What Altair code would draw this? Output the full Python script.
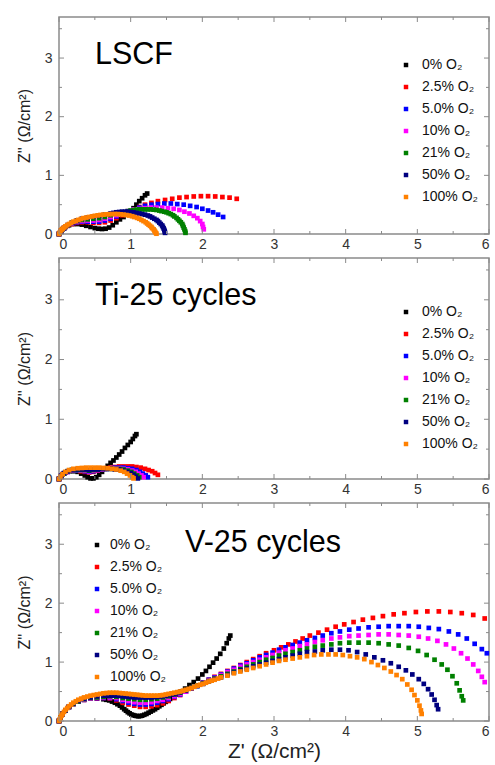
import altair as alt
import pandas as pd

FONT = "Liberation Sans"
FRAME = "#8a8a8a"

SERIES = ["0% O₂", "2.5% O₂", "5.0% O₂", "10% O₂", "21% O₂", "50% O₂", "100% O₂"]
COLORS = ["#000000", "#ff0000", "#0000ff", "#ff00ff", "#008000", "#000080", "#ff8000"]

MAJOR_X = [0, 1, 2, 3, 4, 5, 6]
MINOR_X = [0.5, 1.5, 2.5, 3.5, 4.5, 5.5]
MAJOR_Y = [0, 1, 2, 3]
MINOR_Y = [0.5, 1.5, 2.5, 3.5]

# ---- LSCF: (Z', Z'') pairs per O2 level ----
lscf_0 = [(0, 0), (0.02, 0.04), (0.05, 0.08), (0.09, 0.12), (0.14, 0.15), (0.2, 0.17), (0.26, 0.17),
          (0.32, 0.16), (0.38, 0.14), (0.44, 0.12), (0.5, 0.1), (0.55, 0.09), (0.6, 0.085), (0.65, 0.09),
          (0.7, 0.11), (0.75, 0.15), (0.8, 0.2), (0.85, 0.25), (0.9, 0.29), (0.95, 0.34), (1.0, 0.39),
          (1.04, 0.44), (1.08, 0.5), (1.12, 0.56), (1.16, 0.61), (1.2, 0.66), (1.23, 0.69)]
lscf_25 = [(0, 0), (0.03, 0.05), (0.07, 0.1), (0.12, 0.14), (0.18, 0.17), (0.25, 0.19), (0.32, 0.2),
           (0.4, 0.2), (0.48, 0.19), (0.56, 0.19), (0.64, 0.2), (0.72, 0.23), (0.8, 0.27), (0.88, 0.32),
           (0.96, 0.37), (1.04, 0.42), (1.12, 0.46), (1.2, 0.5), (1.29, 0.53), (1.38, 0.56), (1.48, 0.58),
           (1.58, 0.6), (1.68, 0.62), (1.78, 0.63), (1.88, 0.64), (1.98, 0.645), (2.08, 0.645),
           (2.18, 0.64), (2.28, 0.63), (2.38, 0.62), (2.48, 0.6)]
lscf_5 = [(0, 0), (0.03, 0.05), (0.07, 0.1), (0.12, 0.14), (0.18, 0.18), (0.25, 0.2), (0.32, 0.21),
          (0.4, 0.21), (0.48, 0.21), (0.56, 0.21), (0.64, 0.23), (0.72, 0.26), (0.8, 0.3), (0.88, 0.34),
          (0.96, 0.38), (1.04, 0.42), (1.12, 0.45), (1.2, 0.48), (1.29, 0.5), (1.38, 0.51), (1.47, 0.52),
          (1.56, 0.52), (1.65, 0.51), (1.74, 0.5), (1.83, 0.48), (1.92, 0.46), (2.0, 0.43), (2.08, 0.4),
          (2.15, 0.37), (2.22, 0.33), (2.29, 0.29)]
lscf_10 = [(0, 0), (0.03, 0.05), (0.07, 0.1), (0.12, 0.15), (0.18, 0.18), (0.25, 0.21), (0.32, 0.22),
           (0.4, 0.23), (0.48, 0.23), (0.56, 0.24), (0.64, 0.26), (0.72, 0.29), (0.8, 0.32), (0.88, 0.36),
           (0.96, 0.39), (1.04, 0.42), (1.12, 0.43), (1.2, 0.44), (1.28, 0.45), (1.36, 0.45), (1.44, 0.45),
           (1.52, 0.44), (1.6, 0.43), (1.68, 0.41), (1.75, 0.38), (1.82, 0.35), (1.88, 0.31), (1.93, 0.27),
           (1.97, 0.22), (2.0, 0.17), (2.01, 0.12), (2.02, 0.08)]
lscf_21 = [(0, 0), (0.03, 0.05), (0.07, 0.1), (0.12, 0.15), (0.18, 0.19), (0.25, 0.22), (0.32, 0.24),
           (0.4, 0.25), (0.48, 0.26), (0.56, 0.27), (0.64, 0.29), (0.72, 0.32), (0.8, 0.35), (0.88, 0.37),
           (0.96, 0.39), (1.0, 0.4), (1.04, 0.41), (1.08, 0.415), (1.12, 0.42), (1.16, 0.42), (1.2, 0.42),
           (1.24, 0.42), (1.28, 0.42), (1.32, 0.415), (1.36, 0.41), (1.4, 0.4), (1.43, 0.39), (1.47, 0.38),
           (1.5, 0.37), (1.53, 0.355), (1.56, 0.34), (1.59, 0.32), (1.61, 0.3), (1.64, 0.275), (1.66, 0.25),
           (1.68, 0.225), (1.7, 0.2), (1.72, 0.17), (1.73, 0.14), (1.74, 0.11), (1.75, 0.08), (1.76, 0.05),
           (1.765, 0.02)]
lscf_50 = [(0, 0), (0.03, 0.05), (0.07, 0.1), (0.12, 0.15), (0.18, 0.19), (0.25, 0.23), (0.32, 0.26),
           (0.4, 0.28), (0.48, 0.3), (0.56, 0.31), (0.64, 0.33), (0.72, 0.35), (0.76, 0.36), (0.8, 0.37),
           (0.84, 0.375), (0.88, 0.38), (0.92, 0.38), (0.96, 0.38), (1.0, 0.375), (1.04, 0.37), (1.08, 0.36),
           (1.12, 0.35), (1.16, 0.34), (1.2, 0.33), (1.24, 0.315), (1.27, 0.3), (1.3, 0.28), (1.33, 0.26),
           (1.36, 0.24), (1.38, 0.22), (1.4, 0.195), (1.42, 0.17), (1.44, 0.145), (1.45, 0.12),
           (1.46, 0.095), (1.47, 0.07), (1.475, 0.045), (1.48, 0.02)]
lscf_100 = [(0, 0), (0.01, 0.025), (0.02, 0.05), (0.035, 0.07), (0.05, 0.09), (0.07, 0.11), (0.09, 0.13),
            (0.115, 0.15), (0.14, 0.17), (0.17, 0.19), (0.2, 0.21), (0.235, 0.225), (0.27, 0.24),
            (0.305, 0.255), (0.34, 0.27), (0.38, 0.28), (0.42, 0.29), (0.46, 0.3), (0.5, 0.31),
            (0.54, 0.318), (0.58, 0.325), (0.62, 0.33), (0.66, 0.335), (0.7, 0.338), (0.74, 0.34),
            (0.78, 0.34), (0.82, 0.34), (0.86, 0.335), (0.9, 0.33), (0.94, 0.323), (0.98, 0.315),
            (1.02, 0.303), (1.05, 0.29), (1.09, 0.275), (1.12, 0.26), (1.15, 0.24), (1.18, 0.22),
            (1.21, 0.2), (1.23, 0.18), (1.25, 0.16), (1.27, 0.14), (1.29, 0.12), (1.3, 0.1), (1.32, 0.08),
            (1.33, 0.06), (1.34, 0.04), (1.35, 0.02), (1.36, 0.005)]

# ---- Ti-25 cycles ----
ti_0 = [(0, 0), (0.02, 0.04), (0.05, 0.08), (0.09, 0.11), (0.14, 0.13), (0.2, 0.13), (0.26, 0.12),
        (0.31, 0.09), (0.36, 0.06), (0.4, 0.03), (0.44, 0.01), (0.48, 0.01), (0.52, 0.03), (0.56, 0.07),
        (0.6, 0.12), (0.64, 0.17), (0.68, 0.22), (0.72, 0.27), (0.76, 0.31), (0.8, 0.36), (0.84, 0.41),
        (0.88, 0.46), (0.92, 0.52), (0.96, 0.57), (1.0, 0.62), (1.03, 0.67), (1.06, 0.72), (1.08, 0.75)]
ti_25 = [(0, 0), (0.03, 0.05), (0.07, 0.09), (0.12, 0.12), (0.18, 0.14), (0.24, 0.14), (0.3, 0.13),
         (0.36, 0.12), (0.42, 0.11), (0.48, 0.12), (0.54, 0.14), (0.6, 0.16), (0.66, 0.18), (0.72, 0.19),
         (0.78, 0.2), (0.84, 0.21), (0.9, 0.21), (0.96, 0.21), (1.02, 0.21), (1.08, 0.2), (1.14, 0.19),
         (1.2, 0.17), (1.25, 0.15), (1.3, 0.13), (1.34, 0.1), (1.38, 0.07)]
ti_5 = [(0, 0), (0.03, 0.05), (0.07, 0.09), (0.12, 0.12), (0.18, 0.14), (0.24, 0.14), (0.3, 0.14),
        (0.36, 0.13), (0.42, 0.12), (0.48, 0.13), (0.54, 0.15), (0.6, 0.16), (0.66, 0.17), (0.72, 0.18),
        (0.78, 0.19), (0.84, 0.19), (0.9, 0.19), (0.96, 0.18), (1.02, 0.17), (1.08, 0.15), (1.13, 0.12),
        (1.17, 0.09), (1.21, 0.06), (1.24, 0.03)]
ti_10 = [(0, 0), (0.03, 0.05), (0.07, 0.09), (0.12, 0.12), (0.18, 0.14), (0.24, 0.15), (0.3, 0.14),
         (0.36, 0.14), (0.42, 0.13), (0.48, 0.14), (0.54, 0.15), (0.6, 0.16), (0.66, 0.17), (0.72, 0.18),
         (0.78, 0.18), (0.84, 0.18), (0.9, 0.17), (0.96, 0.16), (1.02, 0.14), (1.07, 0.12), (1.11, 0.09),
         (1.15, 0.06), (1.18, 0.03)]
ti_21 = [(0, 0), (0.03, 0.05), (0.07, 0.09), (0.12, 0.13), (0.18, 0.15), (0.24, 0.15), (0.3, 0.15),
         (0.36, 0.15), (0.42, 0.14), (0.48, 0.15), (0.54, 0.16), (0.6, 0.17), (0.66, 0.17), (0.72, 0.17),
         (0.78, 0.17), (0.84, 0.17), (0.9, 0.16), (0.96, 0.14), (1.01, 0.12), (1.05, 0.09), (1.09, 0.06),
         (1.12, 0.03)]
ti_50 = [(0, 0), (0.03, 0.05), (0.07, 0.1), (0.12, 0.13), (0.18, 0.15), (0.24, 0.16), (0.3, 0.16),
         (0.36, 0.16), (0.42, 0.15), (0.48, 0.16), (0.54, 0.16), (0.6, 0.17), (0.66, 0.17), (0.72, 0.17),
         (0.78, 0.16), (0.84, 0.16), (0.9, 0.14), (0.95, 0.12), (1.0, 0.1), (1.04, 0.07), (1.07, 0.04),
         (1.1, 0.01)]
ti_100 = [(0, 0), (0.02, 0.04), (0.05, 0.08), (0.09, 0.12), (0.14, 0.15), (0.2, 0.17), (0.26, 0.18),
          (0.32, 0.185), (0.38, 0.19), (0.44, 0.19), (0.5, 0.19), (0.56, 0.19), (0.62, 0.185),
          (0.68, 0.18), (0.74, 0.17), (0.8, 0.16), (0.86, 0.14), (0.91, 0.12), (0.95, 0.09), (0.99, 0.06),
          (1.02, 0.03), (1.04, 0.01)]

# ---- V-25 cycles ----
v_0 = [(0, 0), (0.02, 0.06), (0.05, 0.12), (0.09, 0.18), (0.14, 0.24), (0.2, 0.29), (0.27, 0.33),
       (0.35, 0.36), (0.44, 0.38), (0.53, 0.38), (0.62, 0.37), (0.66, 0.36), (0.7, 0.35), (0.74, 0.33),
       (0.78, 0.31), (0.815, 0.285), (0.85, 0.26), (0.88, 0.23), (0.91, 0.2), (0.935, 0.175),
       (0.96, 0.15), (0.985, 0.13), (1.01, 0.11), (1.035, 0.1), (1.06, 0.09), (1.085, 0.085),
       (1.11, 0.08), (1.135, 0.085), (1.16, 0.09), (1.19, 0.105), (1.22, 0.12), (1.25, 0.14),
       (1.28, 0.16), (1.31, 0.18), (1.34, 0.2), (1.37, 0.225), (1.4, 0.25), (1.43, 0.275), (1.46, 0.3),
       (1.49, 0.325), (1.52, 0.35), (1.55, 0.375), (1.58, 0.4), (1.61, 0.425), (1.64, 0.45),
       (1.67, 0.475), (1.7, 0.5), (1.76, 0.55), (1.82, 0.61), (1.88, 0.66), (1.94, 0.72), (2.0, 0.79),
       (2.05, 0.85), (2.1, 0.92), (2.15, 0.99), (2.2, 1.06), (2.25, 1.14), (2.3, 1.23), (2.34, 1.32),
       (2.37, 1.4), (2.39, 1.45)]
v_25 = [(0, 0), (0.02, 0.06), (0.05, 0.12), (0.09, 0.18), (0.14, 0.24), (0.2, 0.29), (0.27, 0.33),
        (0.35, 0.36), (0.44, 0.38), (0.53, 0.39), (0.62, 0.39), (0.71, 0.38), (0.8, 0.35), (0.89, 0.31),
        (0.97, 0.28), (1.05, 0.26), (1.13, 0.24), (1.21, 0.24), (1.29, 0.25), (1.37, 0.27), (1.45, 0.3),
        (1.53, 0.34), (1.61, 0.39), (1.69, 0.44), (1.77, 0.5), (1.85, 0.55), (1.93, 0.6), (2.01, 0.65),
        (2.09, 0.7), (2.17, 0.75), (2.26, 0.8), (2.35, 0.85), (2.44, 0.9), (2.53, 0.95), (2.62, 1.0),
        (2.71, 1.05), (2.8, 1.1), (2.89, 1.15), (3.0, 1.2), (3.1, 1.25), (3.2, 1.3), (3.3, 1.35),
        (3.4, 1.4), (3.5, 1.45), (3.62, 1.5), (3.74, 1.55), (3.86, 1.6), (3.98, 1.64), (4.11, 1.68),
        (4.24, 1.72), (4.38, 1.75), (4.52, 1.78), (4.67, 1.81), (4.82, 1.83), (4.98, 1.85), (5.14, 1.86),
        (5.3, 1.86), (5.46, 1.85), (5.62, 1.83), (5.78, 1.8), (5.94, 1.74)]
v_5 = [(0, 0), (0.02, 0.06), (0.05, 0.12), (0.09, 0.18), (0.14, 0.24), (0.2, 0.29), (0.27, 0.33),
       (0.35, 0.36), (0.44, 0.38), (0.53, 0.39), (0.62, 0.39), (0.71, 0.39), (0.8, 0.37), (0.89, 0.34),
       (0.97, 0.31), (1.05, 0.29), (1.13, 0.28), (1.21, 0.28), (1.29, 0.29), (1.37, 0.31), (1.45, 0.34),
       (1.53, 0.37), (1.61, 0.41), (1.69, 0.45), (1.77, 0.5), (1.85, 0.55), (1.93, 0.6), (2.01, 0.65),
       (2.09, 0.7), (2.17, 0.74), (2.26, 0.79), (2.35, 0.84), (2.44, 0.89), (2.53, 0.94), (2.62, 0.98),
       (2.71, 1.03), (2.8, 1.08), (2.89, 1.12), (2.98, 1.16), (3.07, 1.21), (3.16, 1.25), (3.26, 1.29),
       (3.36, 1.33), (3.46, 1.37), (3.57, 1.41), (3.68, 1.45), (3.8, 1.49), (3.92, 1.52), (4.05, 1.55),
       (4.18, 1.57), (4.32, 1.59), (4.46, 1.6), (4.6, 1.61), (4.74, 1.61), (4.88, 1.61), (5.02, 1.6),
       (5.16, 1.58), (5.3, 1.56), (5.44, 1.52), (5.57, 1.47), (5.69, 1.4), (5.8, 1.31), (5.9, 1.22),
       (5.97, 1.15)]
v_10 = [(0, 0), (0.02, 0.06), (0.05, 0.12), (0.09, 0.18), (0.14, 0.24), (0.2, 0.29), (0.27, 0.33),
        (0.35, 0.36), (0.44, 0.38), (0.53, 0.39), (0.62, 0.4), (0.71, 0.4), (0.8, 0.39), (0.89, 0.36),
        (0.97, 0.34), (1.05, 0.32), (1.13, 0.31), (1.21, 0.31), (1.29, 0.32), (1.37, 0.34), (1.45, 0.36),
        (1.53, 0.39), (1.61, 0.42), (1.69, 0.46), (1.77, 0.5), (1.85, 0.55), (1.93, 0.6), (2.01, 0.64),
        (2.09, 0.69), (2.17, 0.73), (2.26, 0.78), (2.35, 0.83), (2.44, 0.87), (2.53, 0.92), (2.62, 0.96),
        (2.71, 1.0), (2.8, 1.04), (2.89, 1.08), (2.98, 1.12), (3.07, 1.16), (3.16, 1.2), (3.26, 1.23),
        (3.36, 1.27), (3.46, 1.3), (3.57, 1.34), (3.68, 1.37), (3.8, 1.4), (3.92, 1.42), (4.05, 1.44),
        (4.18, 1.45), (4.32, 1.46), (4.46, 1.47), (4.6, 1.47), (4.74, 1.46), (4.88, 1.45), (5.02, 1.43),
        (5.15, 1.4), (5.28, 1.36), (5.4, 1.3), (5.51, 1.23), (5.61, 1.15), (5.7, 1.06), (5.78, 0.96),
        (5.85, 0.85), (5.9, 0.75), (5.94, 0.66)]
v_21 = [(0, 0), (0.02, 0.06), (0.05, 0.12), (0.09, 0.18), (0.14, 0.24), (0.2, 0.29), (0.27, 0.33),
        (0.35, 0.37), (0.44, 0.39), (0.53, 0.4), (0.62, 0.41), (0.71, 0.42), (0.8, 0.41), (0.89, 0.39),
        (0.97, 0.38), (1.05, 0.37), (1.13, 0.36), (1.21, 0.36), (1.29, 0.37), (1.37, 0.38), (1.45, 0.4),
        (1.53, 0.42), (1.61, 0.45), (1.69, 0.48), (1.77, 0.52), (1.85, 0.56), (1.93, 0.6), (2.01, 0.64),
        (2.09, 0.68), (2.17, 0.72), (2.26, 0.76), (2.35, 0.8), (2.44, 0.84), (2.53, 0.88), (2.62, 0.92),
        (2.71, 0.96), (2.8, 1.0), (2.89, 1.04), (2.98, 1.07), (3.07, 1.11), (3.16, 1.14), (3.26, 1.17),
        (3.36, 1.2), (3.46, 1.23), (3.57, 1.26), (3.68, 1.28), (3.8, 1.3), (3.92, 1.32), (4.05, 1.33),
        (4.18, 1.33), (4.32, 1.33), (4.46, 1.32), (4.6, 1.3), (4.74, 1.28), (4.88, 1.24), (5.01, 1.19),
        (5.13, 1.12), (5.24, 1.04), (5.34, 0.96), (5.42, 0.87), (5.49, 0.76), (5.55, 0.64), (5.59, 0.52),
        (5.62, 0.42), (5.64, 0.35)]
v_50 = [(0, 0), (0.02, 0.06), (0.05, 0.12), (0.09, 0.18), (0.14, 0.24), (0.2, 0.3), (0.27, 0.34),
        (0.35, 0.38), (0.44, 0.4), (0.53, 0.42), (0.62, 0.43), (0.665, 0.43), (0.71, 0.43), (0.755, 0.43),
        (0.8, 0.43), (0.845, 0.425), (0.89, 0.42), (0.93, 0.415), (0.97, 0.41), (1.01, 0.405),
        (1.05, 0.4), (1.09, 0.4), (1.13, 0.4), (1.17, 0.4), (1.21, 0.4), (1.25, 0.4), (1.29, 0.4),
        (1.33, 0.405), (1.37, 0.41), (1.41, 0.415), (1.45, 0.42), (1.49, 0.43), (1.53, 0.44),
        (1.57, 0.45), (1.61, 0.46), (1.65, 0.475), (1.69, 0.49), (1.77, 0.52), (1.85, 0.56), (1.93, 0.59),
        (2.01, 0.63), (2.09, 0.67), (2.17, 0.71), (2.26, 0.74), (2.35, 0.78), (2.44, 0.82), (2.53, 0.86),
        (2.62, 0.89), (2.71, 0.93), (2.8, 0.96), (2.89, 0.99), (2.98, 1.02), (3.07, 1.05), (3.16, 1.08),
        (3.26, 1.11), (3.36, 1.14), (3.46, 1.17), (3.57, 1.18), (3.68, 1.2), (3.8, 1.21), (3.92, 1.21),
        (4.04, 1.2), (4.16, 1.17), (4.28, 1.13), (4.4, 1.08), (4.52, 1.03), (4.63, 0.98), (4.74, 0.92),
        (4.84, 0.86), (4.93, 0.79), (5.02, 0.71), (5.09, 0.63), (5.15, 0.54), (5.2, 0.45), (5.24, 0.36),
        (5.27, 0.27), (5.29, 0.2)]
v_100 = [(0, 0), (0.01, 0.03), (0.02, 0.06), (0.035, 0.09), (0.05, 0.12), (0.07, 0.155), (0.09, 0.19),
         (0.115, 0.22), (0.14, 0.25), (0.17, 0.28), (0.2, 0.31), (0.235, 0.335), (0.27, 0.36),
         (0.31, 0.38), (0.35, 0.4), (0.395, 0.415), (0.44, 0.43), (0.485, 0.44), (0.53, 0.45),
         (0.575, 0.46), (0.62, 0.47), (0.665, 0.475), (0.71, 0.48), (0.755, 0.48), (0.8, 0.48),
         (0.845, 0.475), (0.89, 0.47), (0.93, 0.465), (0.97, 0.46), (1.01, 0.455), (1.05, 0.45),
         (1.09, 0.445), (1.13, 0.44), (1.17, 0.435), (1.21, 0.43), (1.25, 0.43), (1.29, 0.43), (1.33, 0.43),
         (1.37, 0.43), (1.41, 0.435), (1.45, 0.44), (1.49, 0.45), (1.53, 0.46), (1.57, 0.47), (1.61, 0.48),
         (1.65, 0.49), (1.69, 0.5), (1.73, 0.515), (1.77, 0.53), (1.81, 0.545), (1.85, 0.56), (1.89, 0.58),
         (1.93, 0.6), (1.97, 0.615), (2.01, 0.63), (2.05, 0.65), (2.09, 0.67), (2.13, 0.685), (2.17, 0.7),
         (2.22, 0.72), (2.26, 0.74), (2.35, 0.77), (2.44, 0.81), (2.53, 0.84), (2.62, 0.87), (2.71, 0.9),
         (2.8, 0.93), (2.89, 0.96), (2.98, 0.99), (3.07, 1.02), (3.16, 1.04), (3.26, 1.06), (3.36, 1.08),
         (3.46, 1.1), (3.56, 1.12), (3.66, 1.13), (3.76, 1.13), (3.86, 1.13), (3.96, 1.12), (4.06, 1.1),
         (4.16, 1.08), (4.26, 1.05), (4.36, 1.0), (4.45, 0.95), (4.54, 0.9), (4.63, 0.84), (4.71, 0.78),
         (4.79, 0.71), (4.86, 0.62), (4.92, 0.53), (4.96, 0.44), (5.0, 0.35), (5.03, 0.26), (5.05, 0.18),
         (5.06, 0.12)]

XS = alt.Scale(domain=[0, 6], nice=False)
YS = alt.Scale(domain=[0, 3.7], nice=False)
WIDTH = 430


def frame_ticks(W, H, x_axis, y_axis):
    """Inward major/minor ticks on all four sides of the frame."""
    layers = []
    for vals, L in ((MAJOR_X, 5), (MINOR_X, 3)):
        base = alt.Chart(pd.DataFrame({"x": vals})).mark_rule(color=FRAME, strokeWidth=1)
        xe = alt.X("x:Q", scale=XS, axis=x_axis)
        layers.append(base.encode(x=xe, y=alt.value(H), y2=alt.value(H - L)))
        layers.append(base.encode(x=xe, y=alt.value(0), y2=alt.value(L)))
    for vals, L in ((MAJOR_Y, 5), (MINOR_Y, 3)):
        base = alt.Chart(pd.DataFrame({"y": vals})).mark_rule(color=FRAME, strokeWidth=1)
        ye = alt.Y("y:Q", scale=YS, axis=y_axis)
        layers.append(base.encode(y=ye, x=alt.value(0), x2=alt.value(L)))
        layers.append(base.encode(y=ye, x=alt.value(W), x2=alt.value(W - L)))
    return layers


def panel(curves, label, label_x, label_y, H, leg_x, leg_y, leg_offset, x_title):
    rows = []
    for name, pts in zip(SERIES, curves):
        for zr, zi in pts:
            rows.append({"series": name, "x": zr, "y": zi, "k": len(rows)})
    df = pd.DataFrame(rows)

    x_axis = alt.Axis(values=MAJOR_X, format="d", ticks=False, tickSize=0, domain=False, grid=False,
                      labelPadding=3, title=x_title if x_title else None, titlePadding=2,
                      titleFontSize=21)
    y_axis = alt.Axis(values=MAJOR_Y, format="d", ticks=False, tickSize=0, domain=False, grid=False,
                      labelPadding=7, title="Z'' (Ω/cm²)", titlePadding=12)

    pts = alt.Chart(df).mark_square(size=22, opacity=1, strokeWidth=0).encode(
        x=alt.X("x:Q", scale=XS, axis=x_axis),
        y=alt.Y("y:Q", scale=YS, axis=y_axis),
        color=alt.Color("series:N", scale=alt.Scale(domain=SERIES, range=COLORS),
                        legend=alt.Legend(title=None, orient="none", legendX=leg_x, legendY=leg_y,
                                          symbolType="square", symbolSize=20, symbolStrokeWidth=0,
                                          labelFont=FONT, labelFontSize=14, labelColor="#111",
                                          rowPadding=8, labelOffset=leg_offset, padding=0)),
        order=alt.Order("k:Q"),
    )

    name_text = alt.Chart(pd.DataFrame({"t": [label]})).mark_text(
        font=FONT, fontSize=30.5, align="left", baseline="alphabetic", color="#000"
    ).encode(text="t:N", x=alt.value(label_x), y=alt.value(label_y))

    return alt.layer(pts, *frame_ticks(WIDTH, H, x_axis, y_axis), name_text).properties(
        width=WIDTH, height=H)


p1 = panel([lscf_0, lscf_25, lscf_5, lscf_10, lscf_21, lscf_50, lscf_100],
           "LSCF", 36, 47, 217, 340, 41, 9, None)
p2 = panel([ti_0, ti_25, ti_5, ti_10, ti_21, ti_50, ti_100],
           "Ti-25 cycles", 36, 47, 221, 340, 47, 9, None)
p3 = panel([v_0, v_25, v_5, v_10, v_21, v_50, v_100],
           "V-25 cycles", 126, 49, 218, 31, 35, 6, "Z' (Ω/cm²)")

chart = alt.vconcat(p1, p2, p3, spacing=24, bounds="flush").resolve_scale(
    color="independent"
).resolve_legend(color="independent").properties(
    padding={"left": 15, "top": 15, "right": 0, "bottom": 0}
).configure_view(
    stroke=FRAME, strokeWidth=1.5
).configure_axis(
    labelFont=FONT, labelFontSize=14, labelColor="#333",
    titleFont=FONT, titleFontSize=16, titleFontWeight="normal", titleColor="#222"
)

chart.save("out.html", embed_options={"renderer": "svg", "actions": False})
